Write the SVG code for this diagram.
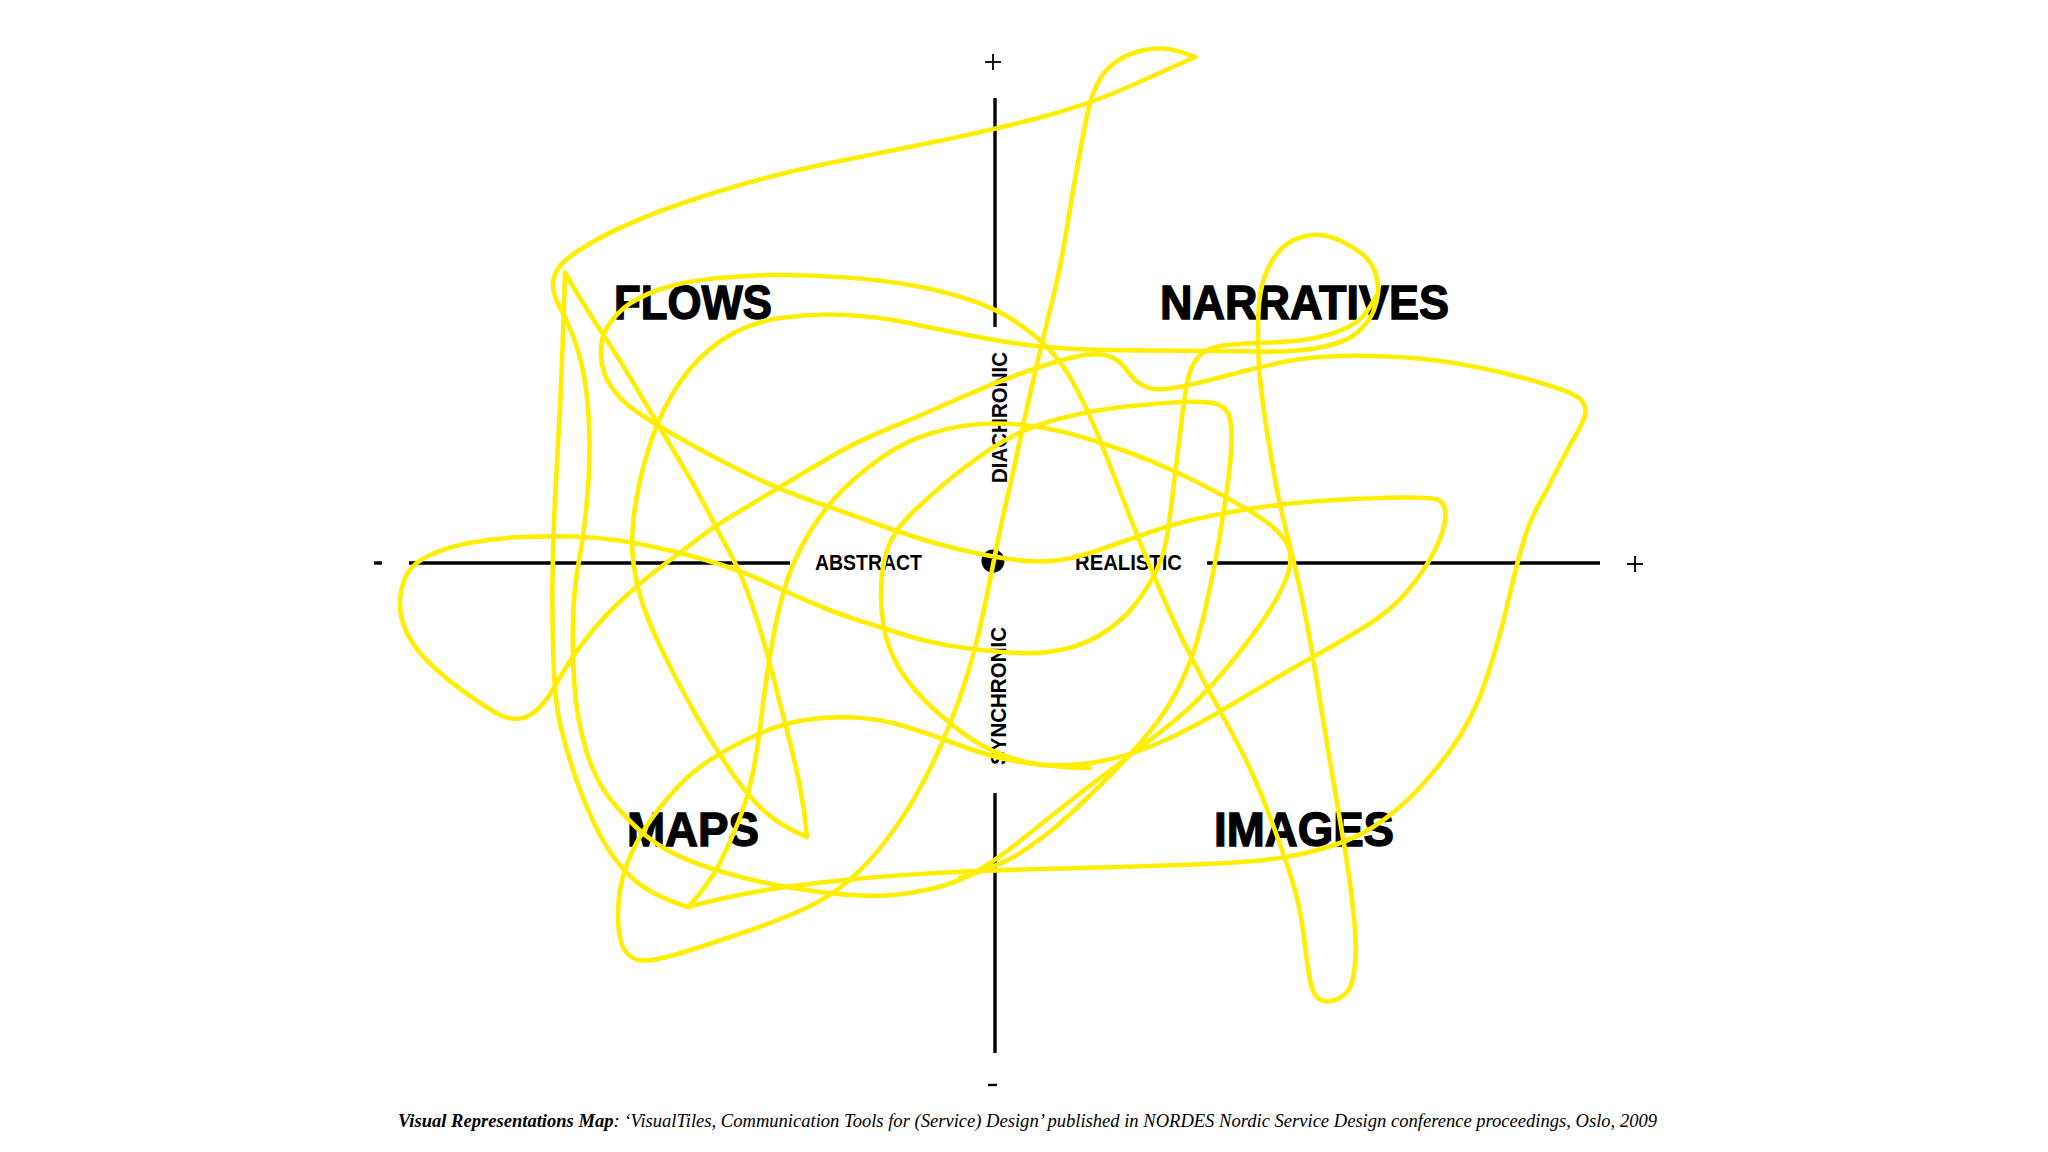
<svg xmlns="http://www.w3.org/2000/svg" width="2048" height="1152" viewBox="0 0 2048 1152">
<style>
.ax{stroke:#000;stroke-width:3.4;fill:none}
.tick{stroke:#000;stroke-width:1.8;fill:none}
.big{font-family:"Liberation Sans",Arial,sans-serif;font-weight:bold;font-size:49px;fill:#000;stroke:#000;stroke-width:1.4}
.sm{font-family:"Liberation Sans",Arial,sans-serif;font-weight:bold;font-size:22px;fill:#000}
.cap{font-family:"Liberation Serif","Times New Roman",serif;font-style:italic;font-size:18px;fill:#000}
.scr{fill:none;stroke:#FFEE00;stroke-width:4.6;stroke-linecap:round;stroke-linejoin:round}
</style>
<rect width="2048" height="1152" fill="#fff"/>
<g id="axes">
<line class="ax" x1="995" y1="98" x2="995" y2="327"/>
<line class="ax" x1="995" y1="793" x2="995" y2="1053"/>
<line class="ax" x1="409" y1="563" x2="790" y2="563"/>
<line class="ax" x1="1207" y1="563" x2="1600" y2="563"/>
<line class="ax" x1="374" y1="563" x2="382" y2="563"/>
<line class="tick" x1="1627" y1="564" x2="1643" y2="564"/>
<line class="tick" x1="1635" y1="556" x2="1635" y2="572"/>
<line class="tick" x1="985" y1="62" x2="1001" y2="62"/>
<line class="tick" x1="993" y1="54" x2="993" y2="70"/>
<line class="ax" x1="988" y1="1085" x2="997" y2="1085" style="stroke-width:2.4"/>
<circle cx="993" cy="561" r="11.5" fill="#000"/>
</g>
<g id="axis-labels">
<text class="sm" x="815" y="570" textLength="107" lengthAdjust="spacingAndGlyphs">ABSTRACT</text>
<text class="sm" x="1075" y="570" textLength="107" lengthAdjust="spacingAndGlyphs">REALISTIC</text>
<text class="sm" transform="translate(1007,417.5) rotate(-90)" x="0" y="0" text-anchor="middle" textLength="131" lengthAdjust="spacingAndGlyphs">DIACHRONIC</text>
<text class="sm" transform="translate(1006,696) rotate(-90)" x="0" y="0" text-anchor="middle" textLength="138" lengthAdjust="spacingAndGlyphs">SYNCHRONIC</text>
</g>
<g id="flows"><text class="big" x="614" y="319" textLength="158" lengthAdjust="spacingAndGlyphs">FLOWS</text></g>
<g id="narratives"><text class="big" x="1160" y="319" textLength="289" lengthAdjust="spacingAndGlyphs">NARRATIVES</text></g>
<g id="maps"><text class="big" x="627" y="846" textLength="132" lengthAdjust="spacingAndGlyphs">MAPS</text></g>
<g id="images"><text class="big" x="1214" y="846" textLength="180" lengthAdjust="spacingAndGlyphs">IMAGES</text></g>
<g id="scribble">
<path class="scr" d="M1195 57 Q1175 49 1162.5 48.5 Q1150 48 1136.5 52 Q1123 56 1113 64 Q1103 72 1097 84.5 Q1091 97 1087.5 113.5 Q1084 130 1078.5 160 Q1073 190 1066.5 230 Q1060 270 1052.5 300 Q1045 330 1036 368.5 Q1027 407 1020 440 Q1013 473 1007 499 Q1001 525 996 550 Q991 575 986 600 Q981 625 974.5 650 Q968 675 959 700 Q950 725 940 747.5 Q930 770 917.5 792.5 Q905 815 887.5 838.5 Q870 862 850 879.5 Q830 897 805 908.5 Q780 920 746.5 931.5 Q713 943 684 952 Q655 961 642.5 960.5 Q630 960 624 949 Q618 938 618 914 Q618 890 625.5 868.5 Q633 847 645 828.5 Q657 810 673.5 791.5 Q690 773 710 760 Q730 747 755 735.5 Q780 724 805 720 Q830 716 855 717.5 Q880 719 903.5 726 Q927 733 960 745.5 Q993 758 1026.5 763 Q1060 768 1093.5 762.5 Q1127 757 1160 742.5 Q1193 728 1235 702.5 Q1277 677 1308.5 659.5 Q1340 642 1366 626 Q1392 610 1408.5 590 Q1425 570 1435 550 Q1445 530 1445.5 516.5 Q1446 503 1438 500 Q1430 497 1401.5 497.5 Q1373 498 1336.5 500 Q1300 502 1270 506 Q1240 510 1210 516 Q1180 522 1153.5 531 Q1127 540 1103.5 548.5 Q1080 557 1060 560 Q1040 563 1016.5 560 Q993 557 966.5 551 Q940 545 916.5 537.5 Q893 530 870 521.5 Q847 513 813.5 501.5 Q780 490 746.5 473.5 Q713 457 683 440 Q653 423 636.5 411.5 Q620 400 611 386.5 Q602 373 601 356.5 Q600 340 606.5 328.5 Q613 317 624.5 307.5 Q636 298 658 290 Q680 282 713.5 278.5 Q747 275 780 275 Q813 275 846.5 277.5 Q880 280 907.5 284.5 Q935 289 964 298 Q993 307 1013 320 Q1033 333 1047.5 347.5 Q1062 362 1075 386 Q1088 410 1100.5 441.5 Q1113 473 1126.5 508 Q1140 543 1158.5 586.5 Q1177 630 1193.5 661.5 Q1210 693 1226.5 723 Q1243 753 1252.5 774 Q1262 795 1273 825 Q1284 855 1292 880 Q1300 905 1304 937.5 Q1308 970 1310.5 982.5 Q1313 995 1319 999 Q1325 1003 1333.5 1000.5 Q1342 998 1347.5 991.5 Q1353 985 1355 965 Q1357 945 1353.5 912.5 Q1350 880 1345 850 Q1340 820 1331.5 770 Q1323 720 1315 670 Q1307 620 1298.5 582.5 Q1290 545 1285 526 Q1280 507 1275.5 482 Q1271 457 1267 432 Q1263 407 1260.5 383.5 Q1258 360 1258 330 Q1258 300 1262.5 283.5 Q1267 267 1276 255 Q1285 243 1297.5 238.5 Q1310 234 1320 235 Q1330 236 1341 241 Q1352 246 1362 254 Q1372 262 1375.5 273.5 Q1379 285 1378 293.5 Q1377 302 1373.5 311 Q1370 320 1361.5 328.5 Q1353 337 1343 341 Q1333 345 1320 347.5 Q1307 350 1290 351 Q1273 352 1256.5 351.5 Q1240 351 1216.5 351 Q1193 351 1143 350.5 Q1093 350 1066.5 348.5 Q1040 347 1016.5 343.5 Q993 340 960 333.5 Q927 327 903.5 322 Q880 317 846.5 315 Q813 313 780 318 Q747 323 722 340 Q697 357 680 382 Q663 407 652.5 437 Q642 467 636.5 498.5 Q631 530 632.5 552.5 Q634 575 641 598.5 Q648 622 664 654.5 Q680 687 696.5 716 Q713 745 730 770 Q747 795 763.5 810.5 Q780 826 807 837"/>
<path class="scr" d="M807 837 Q805 815 801 792.5 Q797 770 788.5 736.5 Q780 703 771.5 670 Q763 637 752.5 606 Q742 575 731 555 Q720 535 708.5 512.5 Q697 490 680 461.5 Q663 433 641.5 396.5 Q620 360 605 337.5 Q590 315 565 273"/>
<path class="scr" d="M565 273 Q562 373 559.5 416.5 Q557 460 555 500 Q553 540 552.5 580 Q552 620 553.5 661.5 Q555 703 561 728 Q567 753 577 781.5 Q587 810 600 835 Q613 860 631.5 877.5 Q650 895 688 907"/>
<path class="scr" d="M688 907 Q710 883 720 863 Q730 843 738.5 821.5 Q747 800 752 776.5 Q757 753 760 728 Q763 703 766.5 678 Q770 653 775 628 Q780 603 786 584 Q792 565 801 547.5 Q810 530 825 510 Q840 490 867.5 468 Q895 446 920 437 Q945 428 970 425 Q995 422 1022.5 425 Q1050 428 1075 435 Q1100 442 1125 451 Q1150 460 1175 471.5 Q1200 483 1229 499 Q1258 515 1271.5 526 Q1285 537 1289 548.5 Q1293 560 1286.5 577.5 Q1280 595 1265 617.5 Q1250 640 1225 670 Q1200 700 1173.5 721.5 Q1147 743 1118 764.5 Q1089 786 1067 803.5 Q1045 821 1022.5 839 Q1000 857 980 869.5 Q960 882 935 888 Q910 894 885 895.5 Q860 897 820 892 Q780 887 746.5 878.5 Q713 870 688 860 Q663 850 645 835 Q627 820 611 800 Q595 780 586 750 Q577 720 574.5 686.5 Q572 653 573 620 Q574 587 578.5 563.5 Q583 540 586.5 506.5 Q590 473 589.5 440 Q589 407 585 382 Q581 357 573.5 337.5 Q566 318 559.5 306.5 Q553 295 553 285 Q553 275 560 266 Q567 257 590 243.5 Q613 230 646.5 216.5 Q680 203 730 188 Q780 173 830 163 Q880 153 936.5 141.5 Q993 130 1040 117.5 Q1087 105 1123.5 89 Q1160 73 1195 57"/>
<path class="scr" d="M688 907 Q713 900 746.5 893.5 Q780 887 830 881.5 Q880 876 936.5 873 Q993 870 1060 868.5 Q1127 867 1193.5 864.5 Q1260 862 1291.5 856 Q1323 850 1348 840 Q1373 830 1398 808.5 Q1423 787 1448 753.5 Q1473 720 1486.5 678.5 Q1500 637 1508.5 600 Q1517 563 1523.5 541.5 Q1530 520 1538.5 505 Q1547 490 1557 470 Q1567 450 1575 436.5 Q1583 423 1585 415 Q1587 407 1581 400 Q1575 393 1541 383 Q1507 373 1473.5 366.5 Q1440 360 1406.5 357.5 Q1373 355 1340 356 Q1307 357 1283.5 362 Q1260 367 1235 373.5 Q1210 380 1193.5 384 Q1177 388 1165 389 Q1153 390 1145 386.5 Q1137 383 1132 376.5 Q1127 370 1121 363.5 Q1115 357 1104 355 Q1093 353 1076.5 356.5 Q1060 360 1026.5 371.5 Q993 383 960 398 Q927 413 893.5 426.5 Q860 440 836.5 453.5 Q813 467 780 487 Q747 507 730 517 Q713 527 696.5 540 Q680 553 663.5 565 Q647 577 627 595 Q607 613 592 631.5 Q577 650 568.5 663.5 Q560 677 553.5 688.5 Q547 700 538.5 708.5 Q530 717 520 718.5 Q510 720 500 715 Q490 710 468.5 695 Q447 680 430 663.5 Q413 647 406 631 Q399 615 400 600 Q401 585 407 574 Q413 563 430 555 Q447 547 472 542.5 Q497 538 522 537 Q547 536 572 536.5 Q597 537 622 541 Q647 545 672 551 Q697 557 722 565 Q747 573 772 585 Q797 597 822 607 Q847 617 863.5 622 Q880 627 905 635 Q930 643 961.5 647.5 Q993 652 1019 653 Q1045 654 1067 648.5 Q1089 643 1107 630.5 Q1125 618 1136 603.5 Q1147 589 1156 571.5 Q1165 554 1168.5 527 Q1172 500 1175 475 Q1178 450 1181 425 Q1184 400 1187 383.5 Q1190 367 1197.5 358 Q1205 349 1217.5 346.5 Q1230 344 1260 343 Q1290 342 1306.5 339.5 Q1323 337 1336.5 332 Q1350 327 1358.5 320.5 Q1367 314 1376 296"/>
<path class="scr" d="M960 878 Q1000 866 1020 853 Q1040 840 1055.5 827 Q1071 814 1100 785.5 Q1129 757 1149.5 732 Q1170 707 1183 678.5 Q1196 650 1205 610.5 Q1214 571 1219 540.5 Q1224 510 1227.5 485 Q1231 460 1231.5 441.5 Q1232 423 1228.5 414.5 Q1225 406 1215 403.5 Q1205 401 1182.5 402 Q1160 403 1126.5 406.5 Q1093 410 1060 418.5 Q1027 427 1002 442 Q977 457 952 477.5 Q927 498 911 514 Q895 530 889 545 Q883 560 881.5 581.5 Q880 603 883.5 625 Q887 647 898.5 667 Q910 687 931.5 707 Q953 727 973 740 Q993 753 1018 760 Q1043 767 1090 768"/>
</g>
<g id="caption">
<text class="cap" x="398" y="1127" textLength="1259" lengthAdjust="spacingAndGlyphs"><tspan font-weight="bold">Visual Representations Map</tspan>: ‘VisualTiles, Communication Tools for (Service) Design’ published in NORDES Nordic Service Design conference proceedings, Oslo, 2009</text>
</g>
</svg>
